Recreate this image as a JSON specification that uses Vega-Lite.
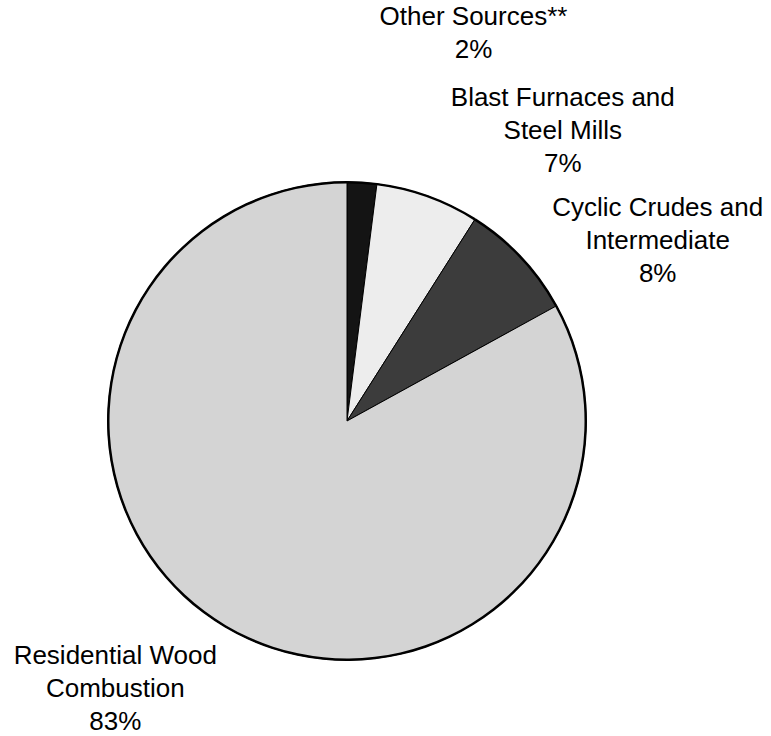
{
  "$schema": "https://vega.github.io/schema/vega-lite/v6.json",
  "autosize": "none",
  "width": 694,
  "height": 630,
  "padding": {"left": 0, "top": 106, "right": 77, "bottom": 0},
  "background": "white",
  "config": {"view": {"stroke": null}, "text": {"font": "Liberation Sans", "fontSize": 26, "lineHeight": 33, "fill": "#000"}},
  "data": {"values": [
    {"rank": 1, "source": "Other Sources**", "share": 2, "label": "Other Sources**\n2%"},
    {"rank": 2, "source": "Blast Furnaces and Steel Mills", "share": 7, "label": "Blast Furnaces and\nSteel Mills\n7%"},
    {"rank": 3, "source": "Cyclic Crudes and Intermediate", "share": 8, "label": "Cyclic Crudes and\nIntermediate\n8%"},
    {"rank": 4, "source": "Residential Wood Combustion", "share": 83, "label": "Residential Wood\nCombustion\n83%"}
  ]},
  "transform": [
    {"stack": "share", "groupby": [], "sort": [{"field": "rank", "order": "ascending"}], "as": ["s0", "s1"]},
    {"calculate": "(datum.s0 + datum.s1) / 2", "as": "mid"}
  ],
  "layer": [
    {
      "mark": {"type": "arc", "outerRadius": 239, "stroke": "#000", "strokeWidth": 1},
      "encoding": {
        "theta": {"field": "s0", "type": "quantitative", "scale": {"domain": [0, 100]}},
        "theta2": {"field": "s1"},
        "color": {"field": "source", "type": "nominal", "legend": null,
          "scale": {"domain": ["Other Sources**", "Blast Furnaces and Steel Mills", "Cyclic Crudes and Intermediate", "Residential Wood Combustion"],
                    "range": ["#141414", "#ededed", "#3c3c3c", "#d4d4d4"]}}
      }
    },
    {
      "mark": {"type": "arc", "innerRadius": 237.5, "outerRadius": 240, "fill": "#000", "strokeWidth": 0},
      "encoding": {
        "theta": {"field": "s0", "type": "quantitative", "scale": {"domain": [0, 100]}},
        "theta2": {"field": "s1"}
      }
    },
    {
      "transform": [{"filter": "datum.rank == 1"}],
      "mark": {"type": "text", "radius": 390, "dx": 102, "dy": -15, "align": "center", "baseline": "middle", "lineBreak": "\n"},
      "encoding": {"theta": {"field": "mid", "type": "quantitative", "stack": null}, "text": {"field": "label", "type": "nominal"}}
    },
    {
      "transform": [{"filter": "datum.rank == 2"}],
      "mark": {"type": "text", "radius": 330, "dx": 104, "dy": -13, "align": "center", "baseline": "middle", "lineBreak": "\n"},
      "encoding": {"theta": {"field": "mid", "type": "quantitative", "stack": null}, "text": {"field": "label", "type": "nominal"}}
    },
    {
      "transform": [{"filter": "datum.rank == 3"}],
      "mark": {"type": "text", "radius": 300, "dx": 92, "dy": -8, "align": "center", "baseline": "middle", "lineBreak": "\n"},
      "encoding": {"theta": {"field": "mid", "type": "quantitative", "stack": null}, "text": {"field": "label", "type": "nominal"}}
    },
    {
      "transform": [{"filter": "datum.rank == 4"}],
      "mark": {"type": "text", "radius": 300, "dx": -79, "dy": -23, "align": "center", "baseline": "middle", "lineBreak": "\n"},
      "encoding": {"theta": {"field": "mid", "type": "quantitative", "stack": null}, "text": {"field": "label", "type": "nominal"}}
    }
  ]
}
